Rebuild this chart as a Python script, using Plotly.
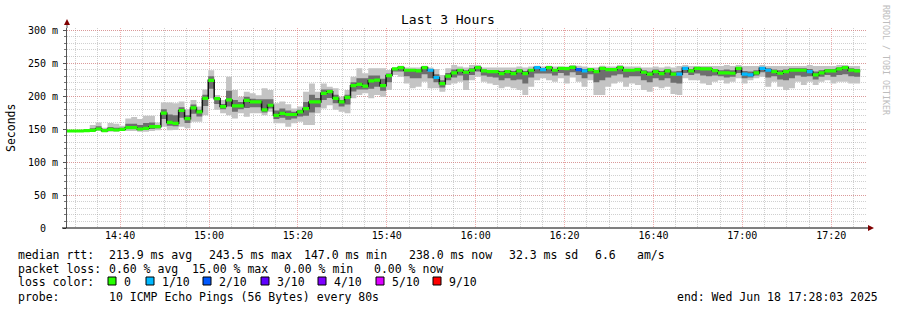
import plotly.graph_objects as go
import pandas as pd

# ---------------- data ----------------
DATA_START = "2025-06-18 14:26:30"
STEP_SECONDS = 80
RANGE_START = "2025-06-18 14:28:03"
RANGE_END = "2025-06-18 17:28:03"

median_ms = [
    147, 147, 147, 147, 147.5, 148, 150, 147.5, 149.5, 148.5,
    149.5, 152, 152, 150, 151, 153.5, 153.5, 174, 160, 158.6,
    178, 165.6, 182, 176, 196.5, 223.7, 196, 184, 194, 185,
    185, 193.5, 191, 191, 179, 186, 170.7, 173.7, 172, 172,
    176, 181, 191, 191, 204, 206.5, 196.5, 191, 198, 215.6,
    217.7, 215, 223, 224, 215.6, 231, 241, 243, 239, 239,
    238, 243, 239, 228, 218.6, 230, 235, 239, 236, 239,
    243, 238, 237, 237, 234, 237, 234, 238, 234, 239,
    243, 240, 243, 239, 242, 241.5, 243.5, 240, 238, 240,
    237, 242, 240, 240, 243, 239, 239, 240, 236, 233,
    237, 234, 238, 233, 233, 242, 238, 242, 241, 241,
    238.5, 235, 235, 234.5, 242, 233, 232, 235, 242, 239,
    237, 234.5, 237, 239, 239, 239, 237, 232, 235, 238,
    238, 241, 243, 239, 238,
]
smoke_lo_ms = [
    146, 146, 146, 146, 146, 146, 147, 146, 146, 146,
    147, 147, 147, 146, 146, 147, 148, 153.5, 148, 148.5,
    153.5, 151, 161, 161, 171, 196.5, 179, 174, 171, 166,
    174, 168.6, 174, 174, 171, 176, 158.6, 158.6, 153.5, 158.6,
    161, 156, 156, 173.7, 181, 186, 179, 176, 173.7, 196.5,
    201.5, 204, 196.5, 201.5, 199, 209, 232, 229, 219, 211.6,
    214, 221.7, 211.6, 211.6, 206.5, 216.7, 219, 221.7, 209, 224,
    229, 221.7, 219, 216.7, 211.6, 214, 211.6, 209, 201.5, 214,
    224, 226.8, 224, 221.7, 226.8, 219, 228, 221.7, 214, 224,
    201.5, 201.5, 214, 219, 221.7, 214, 219, 216.7, 209, 206.5,
    214, 211.6, 214, 203, 201.5, 226.8, 224, 224, 219, 216.7,
    221.7, 224, 219, 221.7, 226.8, 219, 224, 226.8, 229, 214,
    221.7, 214, 209, 211.6, 221.7, 216.7, 221.7, 216.7, 221.7, 224,
    219, 221.7, 221.7, 219, 219,
]
smoke_hi_ms = [
    148, 148, 148.5, 149, 150, 156, 160, 152, 159, 158,
    155, 166, 168, 165, 170, 170, 160, 190, 190, 189,
    191.5, 180, 194, 184, 210, 239, 201.5, 194, 229, 209,
    199, 206.5, 204, 201, 211.6, 209, 189, 191.5, 187.4, 181,
    184, 206.5, 219, 206.5, 219, 214, 211.6, 199, 209, 229,
    242, 234.5, 242, 242, 242, 239.4, 243, 246, 243, 243,
    243, 246, 243, 241, 232, 242, 247, 244.6, 243, 247,
    247, 243, 243, 243, 243, 243, 243, 244.6, 243, 244.6,
    246, 244.6, 246, 244.6, 244.6, 244.6, 247, 246, 244.6, 243,
    243, 246, 244.6, 244.6, 247, 244.6, 244.6, 244.6, 243, 243,
    244.6, 243, 244.6, 243, 245.5, 247, 245.5, 245.5, 245.5, 245.5,
    245.5, 245.5, 247, 245.5, 247, 245.5, 245.5, 245.5, 247, 245.5,
    245.5, 245.5, 245.5, 245.5, 245.5, 245.5, 247, 245.5, 245.5, 245.5,
    245.5, 247, 247, 245.5, 245.5,
]
inner_lo_ms = [
    146, 146, 146, 146, 147, 147, 149, 147, 148, 147,
    148, 150, 150, 148, 149, 150, 151, 165, 155, 154,
    167, 159, 173, 169, 185, 211, 188, 180, 184, 176,
    180, 182, 183, 183, 175, 181, 165, 167, 164, 166,
    169, 170, 175, 183, 194, 197, 189, 184, 187, 207,
    210, 210, 211, 214, 208, 221, 237, 237, 230, 227,
    227, 233, 227, 221, 213, 224, 228, 231, 224, 232,
    237, 231, 229, 228, 224, 227, 224, 225, 219, 228,
    234, 234, 234, 231, 235, 231, 236, 232, 227, 233,
    221, 224, 228, 231, 233, 228, 230, 230, 224, 221,
    227, 224, 227, 220, 219, 235, 232, 234, 231, 230,
    231, 230, 228, 229, 235, 227, 228, 231, 236, 228,
    230, 225, 224, 227, 231, 229, 230, 225, 229, 232,
    229, 232, 233, 230, 229,
]
inner_hi_ms = [
    148, 148, 148, 148, 148, 151, 154, 149, 153, 152,
    152, 158, 158, 156, 159, 160, 156, 180, 172, 171,
    183, 171, 187, 179, 202, 230, 198, 188, 208, 194,
    191, 199, 196, 195, 195, 195, 178, 181, 178, 176,
    179, 191, 202, 197, 210, 210, 202, 194, 202, 221,
    227, 227, 231, 231, 226, 234, 242, 244, 241, 241,
    240, 244, 241, 233, 224, 235, 240, 241, 239, 242,
    245, 240, 239, 239, 238, 239, 238, 241, 238, 241,
    244, 242, 244, 241, 243, 243, 245, 242, 241, 241,
    239, 244, 242, 242, 245, 241, 241, 242, 239, 237,
    240, 238, 241, 237, 238, 244, 241, 243, 243, 243,
    241, 239, 240, 239, 244, 238, 237, 239, 244, 242,
    240, 239, 240, 242, 242, 242, 241, 237, 239, 241,
    241, 243, 245, 242, 241,
]
loss_pings = [
    0, 0, 0, 0, 0, 0, 0, 0, 0, 0,
    0, 0, 0, 0, 0, 0, 0, 0, 0, 0,
    0, 0, 0, 0, 0, 0, 0, 0, 0, 0,
    0, 0, 0, 0, 0, 0, 0, 0, 0, 0,
    0, 0, 0, 0, 0, 0, 0, 0, 0, 0,
    0, 0, 0, 0, 0, 0, 0, 0, 0, 0,
    0, 0, 1, 1, 0, 0, 0, 0, 0, 0,
    0, 0, 0, 0, 0, 0, 0, 0, 0, 0,
    1, 1, 0, 0, 0, 0, 0, 2, 1, 0,
    0, 0, 0, 0, 0, 0, 0, 0, 0, 0,
    0, 0, 0, 0, 1, 1, 0, 0, 0, 0,
    0, 0, 0, 0, 0, 1, 1, 0, 1, 1,
    0, 0, 0, 0, 0, 0, 1, 0, 0, 0,
    0, 0, 0, 0, 0,
]

loss_levels = [0, 1, 2, 3, 4, 5, 9]
loss_labels = ["0", "1/10", "2/10", "3/10", "4/10", "5/10", "9/10"]
loss_colors = ["#26ff00", "#00b8ff", "#0059ff", "#5e00ff", "#7e00ff", "#dd00ff", "#ff0000"]

ytick_vals = [0, 50, 100, 150, 200, 250, 300]
ytick_text = ["0\u00a0\u00a0", "50 m", "100 m", "150 m", "200 m", "250 m", "300 m"]

title_text = "Last 3 Hours"
ylabel_text = "Seconds"
side_text = "RRDTOOL / TOBI OETIKER"
line1 = ["median rtt:", "213.9 ms avg", "243.5 ms max", "147.0 ms min", "238.0 ms now",
         "32.3 ms sd", "6.6", "am/s"]
line2 = ["packet loss:", "0.60 % avg", "15.00 % max", "0.00 % min", "0.00 % now"]
line3_label = "loss color:"
line4 = ["probe:", "10 ICMP Echo Pings (56 Bytes) every 80s"]
end_text = "end: Wed Jun 18 17:28:03 2025"

# ---------------- layout geometry (pixels) ----------------
W, H = 897, 310
PL, PR, PT, PB = 67, 867, 28, 228
FONT = "DejaVu Sans Mono"
MAJOR_GRID = "rgba(225,110,110,0.55)"
MINOR_GRID = "rgba(150,150,150,0.45)"
Y_MAX = 300 * (PB - PT) / 198.0
MEDIAN_BAR_PX = 3.2
MEDIAN_BAR_MS = MEDIAN_BAR_PX * Y_MAX / (PB - PT)


def px(xp):
    return (xp - PL) / (PR - PL)


def py(yp):
    return (PB - yp) / (PB - PT)


times = list(pd.date_range(DATA_START, periods=len(median_ms) + 1, freq=f"{STEP_SECONDS}s"))


def stepped(v):
    return list(v) + [v[-1]]


fig = go.Figure()
common = dict(hoverinfo="skip", showlegend=False)
fig.add_trace(go.Scatter(x=times, y=stepped(smoke_lo_ms), mode="lines",
                         line=dict(width=0, shape="hv"), **common))
fig.add_trace(go.Scatter(x=times, y=stepped(smoke_hi_ms), mode="lines", line=dict(width=0, shape="hv"),
                         fill="tonexty", fillcolor="#c4c4c4", **common))
fig.add_trace(go.Scatter(x=times, y=stepped(inner_lo_ms), mode="lines",
                         line=dict(width=0, shape="hv"), **common))
fig.add_trace(go.Scatter(x=times, y=stepped(inner_hi_ms), mode="lines", line=dict(width=0, shape="hv"),
                         fill="tonexty", fillcolor="#6e6e6e", **common))
fig.add_trace(go.Scatter(x=times, y=stepped(median_ms), mode="lines",
                         line=dict(width=1.5, shape="hv", color="#111111"), **common))

# median coloured by packet loss: one small filled rectangle per step
half = MEDIAN_BAR_MS / 2
for lvl, col in zip(loss_levels, loss_colors):
    xs, ys = [], []
    for i, (m, l) in enumerate(zip(median_ms, loss_pings)):
        if l == lvl:
            t0, t1 = times[i], times[i + 1]
            xs += [t0, t1, t1, t0, t0, None]
            ys += [m - half, m - half, m + half, m + half, m - half, None]
    if xs:
        fig.add_trace(go.Scatter(x=xs, y=ys, mode="lines", fill="toself", fillcolor=col,
                                 line=dict(width=0, color=col), **common))

shapes = [
    # x axis line with arrow
    dict(type="line", xref="paper", yref="paper", x0=px(62), x1=px(869), y0=0, y1=0,
         line=dict(color="#000000", width=1)),
    dict(type="path", xref="paper", yref="paper",
         path=f"M {px(874)} {py(228)} L {px(868)} {py(225)} L {px(868)} {py(231)} Z",
         fillcolor="#800000", line=dict(color="#800000", width=0)),
    # y axis extension + arrow
    dict(type="line", xref="paper", yref="paper", x0=0, x1=0, y0=1, y1=py(25),
         line=dict(color="#555555", width=1)),
    dict(type="path", xref="paper", yref="paper",
         path=f"M {px(67)} {py(19)} L {px(64)} {py(25)} L {px(70)} {py(25)} Z",
         fillcolor="#800000", line=dict(color="#800000", width=0)),
]

annotations = []


def txt(x, y, s, anchor="left", size=11.5, color="#000000", angle=0):
    annotations.append(dict(text=s.replace(" ", "\u00a0"), x=px(x), y=py(y), xref="paper", yref="paper",
                            xanchor=anchor, yanchor="middle", showarrow=False, textangle=angle,
                            font=dict(family=FONT, size=size, color=color)))


# title, axis label, side text
txt(448, 19, title_text, anchor="center", size=13)
txt(11, 128, ylabel_text, anchor="center", size=11.5, angle=-90)
txt(886, 60, side_text, anchor="center", size=8.3, color="#bdbdbd", angle=90)

# legend rows
for x, s in zip([16, 107, 207, 302, 407, 507, 593, 635], line1):
    txt(x, 255, s)
for x, s in zip([16, 107, 190, 282, 372], line2):
    txt(x, 268.5, s)
txt(16, 282, line3_label)
sq_x = [108, 146, 203, 261, 318, 376, 433]
for x0, lab, col in zip(sq_x, loss_labels, loss_colors):
    shapes.append(dict(type="rect", xref="paper", yref="paper", x0=px(x0), x1=px(x0 + 8),
                       y0=py(285), y1=py(277), fillcolor=col, line=dict(color="#000000", width=1)))
    txt(x0 + 14, 282, lab)
txt(16, 296.5, line4[0])
txt(107, 296.5, line4[1])
txt(880, 296.5, end_text, anchor="right")

fig.update_layout(
    width=W, height=H,
    margin=dict(l=PL, r=W - PR, t=PT, b=H - PB, pad=0),
    paper_bgcolor="#ffffff", plot_bgcolor="#ffffff",
    showlegend=False,
    font=dict(family=FONT, size=10, color="#000000"),
    shapes=shapes, annotations=annotations,
    xaxis=dict(
        type="date", range=[RANGE_START, RANGE_END],
        tick0="2025-06-18 14:40:00", dtick=20 * 60 * 1000, tickformat="%H:%M",
        tickfont=dict(family=FONT, size=10, color="#000000"),
        ticks="",
        showgrid=True, gridcolor=MAJOR_GRID, griddash="1px,1px", gridwidth=1,
        minor=dict(tick0="2025-06-18 14:40:00", dtick=5 * 60 * 1000, showgrid=True,
                   gridcolor=MINOR_GRID, griddash="1px,1px", gridwidth=1),
        showline=False, zeroline=False, fixedrange=True,
    ),
    yaxis=dict(
        range=[0, Y_MAX],
        tickvals=ytick_vals, ticktext=ytick_text,
        tickfont=dict(family=FONT, size=10, color="#000000"),
        ticks="outside", ticklen=3, tickcolor="#555555", ticklabelstandoff=3,
        showgrid=True, gridcolor=MAJOR_GRID, griddash="1px,1px", gridwidth=1,
        minor=dict(dtick=10, showgrid=True, gridcolor=MINOR_GRID, griddash="1px,1px", gridwidth=1,
                   ticks="outside", ticklen=2, tickcolor="#777777"),
        showline=True, linecolor="#555555", linewidth=1, zeroline=False, fixedrange=True,
    ),
)

fig.write_html("out.html")
